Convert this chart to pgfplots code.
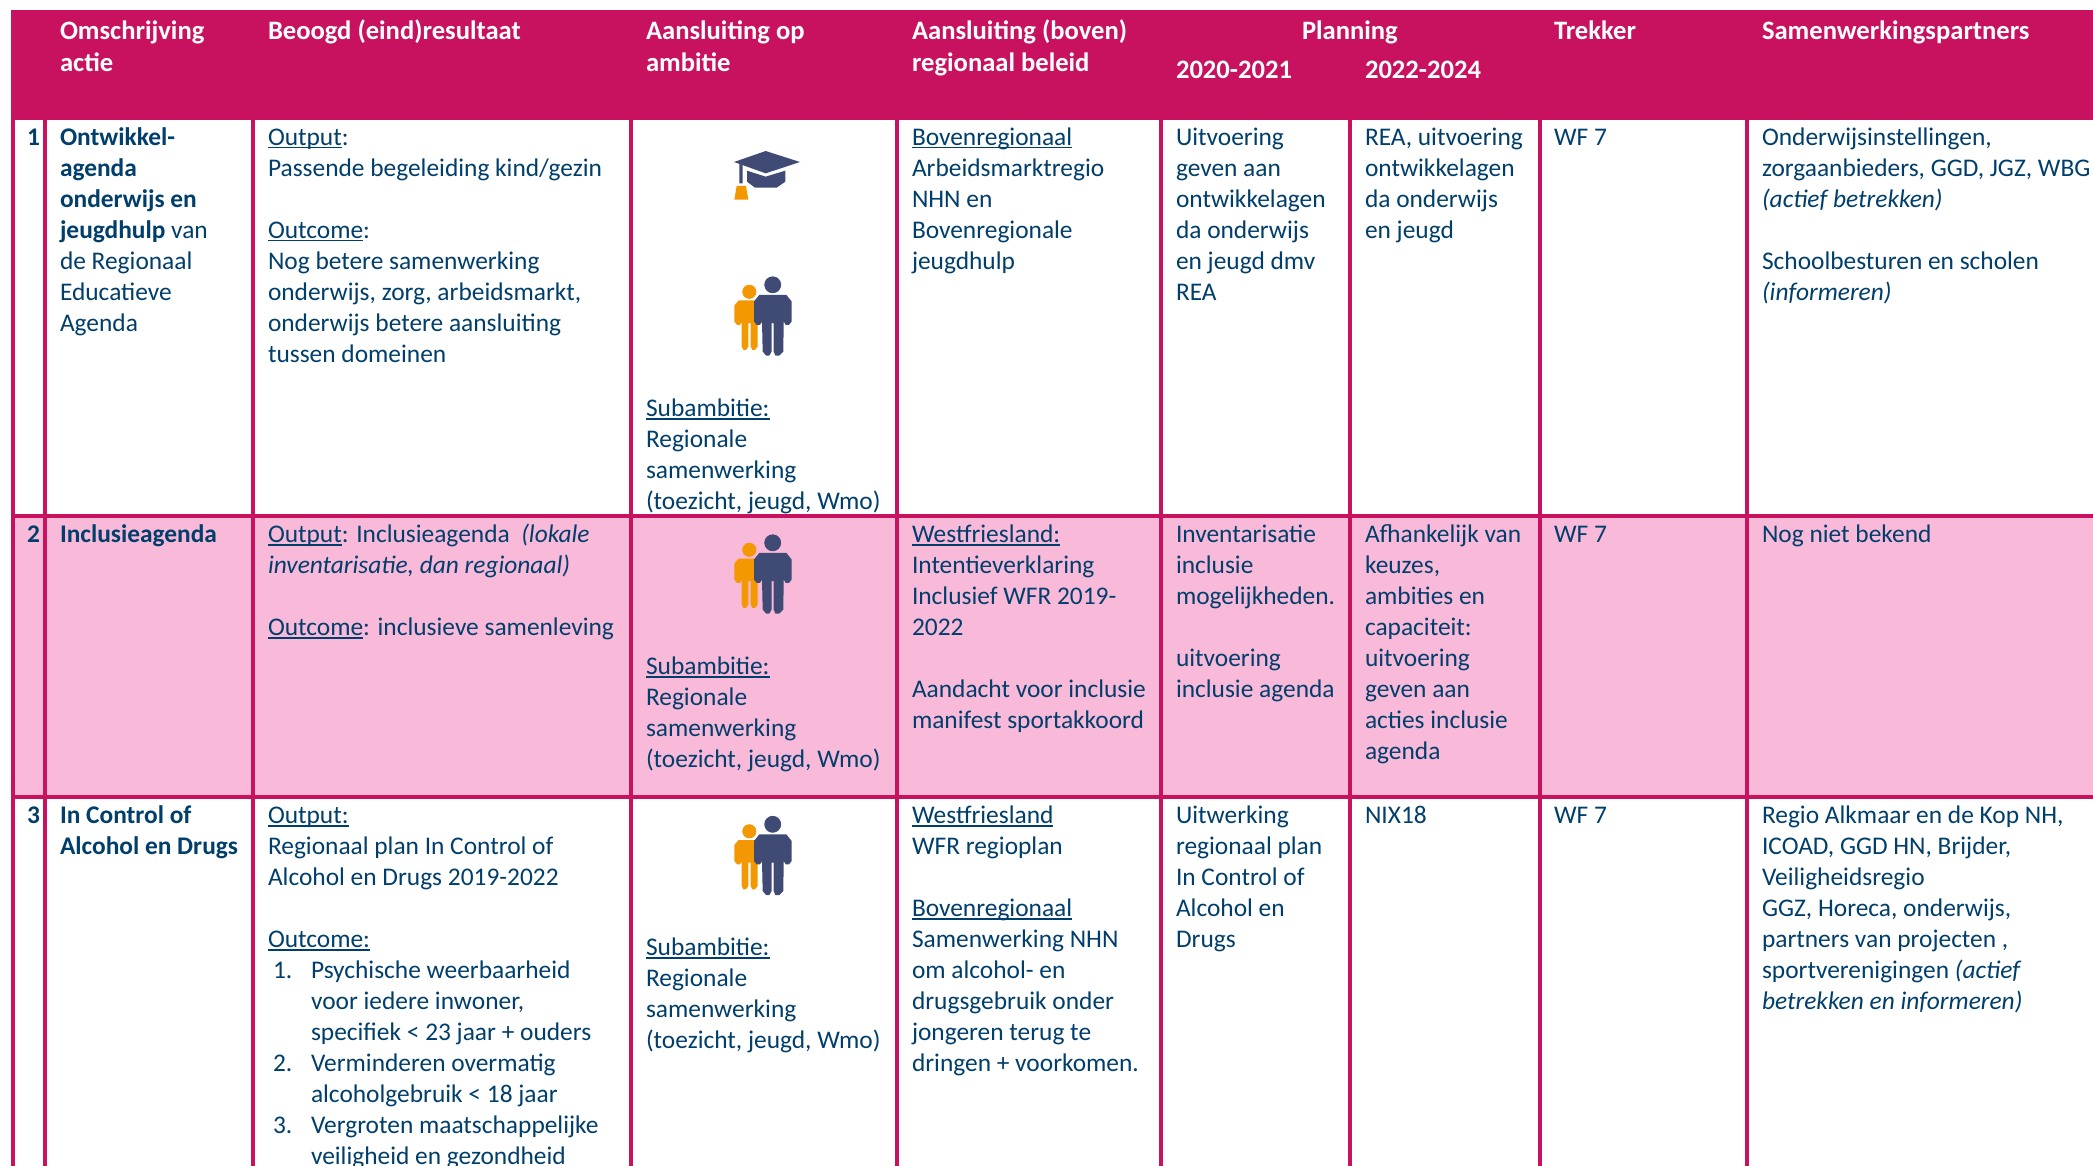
\documentclass[border=0pt]{standalone}
\usepackage{fontspec}
\setmainfont{Carlito}
\usepackage{pgfplots}
\usepackage{pgfplotstable}
\pgfplotsset{compat=1.18}
\definecolor{mag}{HTML}{C8125F}
\definecolor{pnk}{HTML}{F9B9D9}
\definecolor{ink}{HTML}{003E6B}
\definecolor{icn}{HTML}{3F4A75}
\definecolor{org}{HTML}{F39800}
% icon outlines, in the pixels of a 3x crop whose origin is (620,120)
\pgfplotstableread{
x y
402 600
402 540
418 520
499 520
515 540
515 600
507 610
497 610
491 600
490 690
478 702
466 702
461 690
461 605
455 605
455 690
448 702
438 702
428 690
426 600
420 610
410 610
}\bigperson
\pgfplotstableread{
x y
343 600
343 552
356 537
425 537
430 560
430 605
413 605
413 675
405 685
397 685
392 675
392 605
385 605
385 675
378 685
370 685
365 675
365 600
360 610
351 610
}\smallperson
\pgfplotstableread{
x y
342 126
437 93
540 126
437 160
}\capboard
\pgfplotstableread{
x y
381 152
437 170
496 152
496 185
470 203
405 203
381 185
}\capbase
\pgfplotstableread{
x y
358 131
368 135
368 190
358 190
}\capstring
\pgfplotstableread{
x y
343 239
350 198
378 198
385 239
}\captassel
\newcommand\Poly[3]{\addplot[fill=#1,draw=none,no markers] table[x expr=620+\thisrow{x}/3,y expr=120+\thisrow{y}/3+#3] {#2} -- cycle;}
\newcommand\Person[1]{%
 \Poly{org}{\smallperson}{#1}
 \addplot[only marks,mark=*,mark size=3.3pt,color=org] coordinates {(749.3,290.3+#1)};
 \Poly{icn}{\bigperson}{#1}
 \addplot[only marks,mark=*,mark size=4pt,color=icn] coordinates {(772.7,283.3+#1)};
}
\newcommand\T[3]{\node[anchor=base west,inner sep=0pt,outer sep=0pt,text=ink,font=\fontsize{12.7}{12.7}\selectfont] at (axis cs:#1,#2+1.5) {#3};}
\newcommand\Hd[3]{\node[anchor=base west,inner sep=0pt,outer sep=0pt,text=white,font=\fontsize{13.3}{13.3}\selectfont\bfseries] at (axis cs:#1,#2+1.5) {#3};}
\newcommand\U[1]{\setbox0=\hbox{#1}\rlap{\rule[-1.5pt]{\wd0}{0.9pt}}\box0 }
\newcommand\VL[1]{\addplot[draw=mag,line width=1.7pt,no markers] coordinates {(#1,119) (#1,1166)};}
\newcommand\HL[1]{\addplot[draw=mag,line width=1.7pt,no markers] coordinates {(11,#1) (2093,#1)};}
\begin{document}
\begin{tikzpicture}
\begin{axis}[hide axis,scale only axis,x=0.5pt,y=0.5pt,y dir=reverse,
  xmin=0,xmax=2093,ymin=0,ymax=1166,clip=true]
\addplot[fill=white,draw=none,no markers] coordinates {(0,0) (2093,0) (2093,1166) (0,1166)} -- cycle;
\addplot[fill=mag,draw=none,no markers] coordinates {(11,10) (2093,10) (2093,120) (11,120)} -- cycle;
\addplot[fill=pnk,draw=none,no markers] coordinates {(13,516) (2093,516) (2093,797) (13,797)} -- cycle;
\VL{13}\VL{45}\VL{253}\VL{631}\VL{897}\VL{1161}\VL{1350}\VL{1540}\VL{1747}
\HL{516}\HL{797}
% icons
\Poly{icn}{\capboard}{0}
\Poly{icn}{\capbase}{0}
\Poly{icn}{\capstring}{0}
\Poly{org}{\captassel}{0}
\Person{1.5}
\Person{259.5}
\Person{541}
% header
\Hd{60}{38}{Omschrijving}
\Hd{60}{70}{actie}
\Hd{268}{38}{Beoogd (eind)resultaat}
\Hd{646}{38}{Aansluiting op}
\Hd{646}{70}{ambitie}
\Hd{912}{38}{Aansluiting (boven)}
\Hd{912}{70}{regionaal beleid}
\Hd{1302}{38}{Planning}
\Hd{1176}{77}{2020-2021}
\Hd{1365}{77}{2022-2024}
\Hd{1554}{38}{Trekker}
\Hd{1762}{38}{Samenwerkingspartners}
% numbers
\T{27}{144}{\bfseries 1}
\T{27}{541}{\bfseries 2}
\T{27}{822}{\bfseries 3}
% column 1
\T{60}{144}{\bfseries Ontwikkel-}
\T{60}{175}{\bfseries agenda}
\T{60}{206}{\bfseries onderwijs en}
\T{60}{237}{\textbf{jeugdhulp} van}
\T{60}{268}{de Regionaal}
\T{60}{299}{Educatieve}
\T{60}{330}{Agenda}
\T{60}{541}{\bfseries Inclusieagenda}
\T{60}{822}{\bfseries In Control of}
\T{60}{853}{\bfseries Alcohol en Drugs}
% column 2
\T{268}{144}{\U{Output}:}
\T{268}{175}{Passende begeleiding kind/gezin}
\T{268}{237}{\U{Outcome}:}
\T{268}{268}{Nog betere samenwerking}
\T{268}{299}{onderwijs, zorg, arbeidsmarkt,}
\T{268}{330}{onderwijs betere aansluiting}
\T{268}{361}{tussen domeinen}
\T{268}{541}{\U{Output}: Inclusieagenda\ \ \textit{(lokale}}
\T{268}{572}{\textit{inventarisatie, dan regionaal)}}
\T{268}{634}{\U{Outcome}: inclusieve samenleving}
\T{268}{822}{\U{Output:}}
\T{268}{853}{Regionaal plan In Control of}
\T{268}{884}{Alcohol en Drugs 2019-2022}
\T{268}{946}{\U{Outcome:}}
\T{273}{977}{1.}
\T{311}{977}{Psychische weerbaarheid}
\T{311}{1008}{voor iedere inwoner,}
\T{311}{1039}{specifiek < 23 jaar + ouders}
\T{273}{1070}{2.}
\T{311}{1070}{Verminderen overmatig}
\T{311}{1101}{alcoholgebruik < 18 jaar}
\T{273}{1132}{3.}
\T{311}{1132}{Vergroten maatschappelijke}
\T{311}{1163}{veiligheid en gezondheid}
% column 3
\T{646}{415}{\U{Subambitie:}}
\T{646}{446}{Regionale}
\T{646}{477}{samenwerking}
\T{646}{508}{(toezicht, jeugd, Wmo)}
\T{646}{673}{\U{Subambitie:}}
\T{646}{704}{Regionale}
\T{646}{735}{samenwerking}
\T{646}{766}{(toezicht, jeugd, Wmo)}
\T{646}{954}{\U{Subambitie:}}
\T{646}{985}{Regionale}
\T{646}{1016}{samenwerking}
\T{646}{1047}{(toezicht, jeugd, Wmo)}
% column 4
\T{912}{144}{\U{Bovenregionaal}}
\T{912}{175}{Arbeidsmarktregio}
\T{912}{206}{NHN en}
\T{912}{237}{Bovenregionale}
\T{912}{268}{jeugdhulp}
\T{912}{541}{\U{Westfriesland:}}
\T{912}{572}{Intentieverklaring}
\T{912}{603}{Inclusief WFR 2019-}
\T{912}{634}{2022}
\T{912}{696}{Aandacht voor inclusie}
\T{912}{727}{manifest sportakkoord}
\T{912}{822}{\U{Westfriesland}}
\T{912}{853}{WFR regioplan}
\T{912}{915}{\U{Bovenregionaal}}
\T{912}{946}{Samenwerking NHN}
\T{912}{977}{om alcohol- en}
\T{912}{1008}{drugsgebruik onder}
\T{912}{1039}{jongeren terug te}
\T{912}{1070}{dringen + voorkomen.}
% column 5
\T{1176}{144}{Uitvoering}
\T{1176}{175}{geven aan}
\T{1176}{206}{ontwikkelagen}
\T{1176}{237}{da onderwijs}
\T{1176}{268}{en jeugd dmv}
\T{1176}{299}{REA}
\T{1176}{541}{Inventarisatie}
\T{1176}{572}{inclusie}
\T{1176}{603}{mogelijkheden.}
\T{1176}{665}{uitvoering}
\T{1176}{696}{inclusie agenda}
\T{1176}{822}{Uitwerking}
\T{1176}{853}{regionaal plan}
\T{1176}{884}{In Control of}
\T{1176}{915}{Alcohol en}
\T{1176}{946}{Drugs}
% column 6
\T{1365}{144}{REA, uitvoering}
\T{1365}{175}{ontwikkelagen}
\T{1365}{206}{da onderwijs}
\T{1365}{237}{en jeugd}
\T{1365}{541}{Afhankelijk van}
\T{1365}{572}{keuzes,}
\T{1365}{603}{ambities en}
\T{1365}{634}{capaciteit:}
\T{1365}{665}{uitvoering}
\T{1365}{696}{geven aan}
\T{1365}{727}{acties inclusie}
\T{1365}{758}{agenda}
\T{1365}{822}{NIX18}
% column 7
\T{1554}{144}{WF 7}
\T{1554}{541}{WF 7}
\T{1554}{822}{WF 7}
% column 8
\T{1762}{144}{Onderwijsinstellingen,}
\T{1762}{175}{zorgaanbieders, GGD, JGZ, WBG}
\T{1762}{206}{\textit{(actief betrekken)}}
\T{1762}{268}{Schoolbesturen en scholen}
\T{1762}{299}{\textit{(informeren)}}
\T{1762}{541}{Nog niet bekend}
\T{1762}{822}{Regio Alkmaar en de Kop NH,}
\T{1762}{853}{ICOAD, GGD HN, Brijder,}
\T{1762}{884}{Veiligheidsregio}
\T{1762}{915}{GGZ, Horeca, onderwijs,}
\T{1762}{946}{partners van projecten ,}
\T{1762}{977}{sportverenigingen \textit{(actief}}
\T{1762}{1008}{\textit{betrekken en informeren)}}
\end{axis}
\end{tikzpicture}
\end{document}
